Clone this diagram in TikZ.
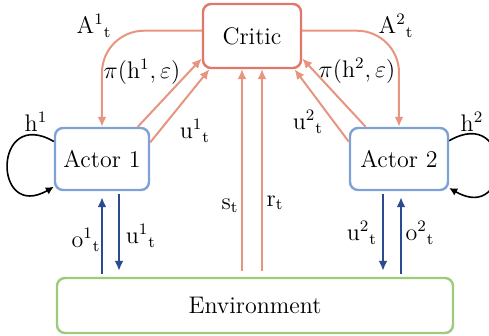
\documentclass[tikz,border=0pt]{standalone}
\usetikzlibrary{arrows.meta}
\definecolor{criticred}{HTML}{E0776A}
\definecolor{flowred}{HTML}{E8957F}
\definecolor{actorblue}{HTML}{7EA1D6}
\definecolor{envgreen}{HTML}{9CCB7C}
\definecolor{obsblue}{HTML}{2C4A8E}
\begin{document}
\begin{tikzpicture}[x=0.5pt, y=-0.5pt, font=\fontsize{12}{14}\selectfont,
    box/.style={draw, rounded corners=4pt, line width=1.2pt, inner sep=0pt},
    critarrow/.style={-{Latex[length=5pt,width=4.5pt]}, draw=flowred, line width=1pt},
    obsarrow/.style={-{Latex[length=5pt,width=4.5pt]}, draw=obsblue, line width=1pt,
      shorten <=1.5pt, shorten >=3pt},
    memloop/.style={-{Latex[length=4pt,width=4pt]}, draw=black, line width=0.8pt},
    lbl/.style={inner sep=1pt}]
\useasboundingbox (0,0) rectangle (489,336);
% boxes
\node[box, draw=criticred, minimum width=49pt, minimum height=32pt] (critic) at (252,36) {Critic};
\node[box, draw=actorblue, minimum width=47pt, minimum height=31pt] (actor1) at (102,159) {Actor 1};
\node[box, draw=actorblue, minimum width=49pt, minimum height=31pt] (actor2) at (399,159) {Actor 2};
\node[box, draw=envgreen, minimum width=198pt, minimum height=27.5pt] (env) at (255,305.5) {Environment};
% actors to critic and back
\draw[critarrow, rounded corners=21pt] (critic.174) -| (actor1.north);
\draw[critarrow, rounded corners=21pt] (critic.6) -| (actor2.north);
\draw[critarrow] (actor1.42) -- (critic.204);
\draw[critarrow] (actor1.19) -- (critic.218);
\draw[critarrow] (actor2.136) -- (critic.336);
\draw[critarrow] (actor2.161) -- (critic.322);
% state and reward
\draw[critarrow, shorten <=3pt, line width=0.8pt] ([xshift=-5pt]critic.south |- env.north) -- ([xshift=-5pt]critic.south);
\draw[critarrow, shorten <=3pt, line width=0.8pt] ([xshift=5pt]critic.south |- env.north) -- ([xshift=5pt]critic.south);
% observations and actions
\draw[obsarrow] (actor1.south |- env.north) -- (actor1.south);
\draw[obsarrow] ([xshift=8.5pt]actor1.south) -- ([xshift=8.5pt]actor1.south |- env.north);
\draw[obsarrow] ([xshift=-8pt]actor2.south) -- ([xshift=-8pt]actor2.south |- env.north);
\draw[obsarrow] ([xshift=1pt]actor2.south |- env.north) -- ([xshift=1pt]actor2.south);
% hidden state
\draw[memloop] (actor1.160) to[out=150,in=210,looseness=4] (actor1.210);
\draw[memloop] (actor2.20) to[out=30,in=-30,looseness=4] (actor2.-30);
% labels
\node[lbl] (a1) at (94,26) {$\mathrm{A}^{1}{}_{\mathrm{t}}$};
\node[lbl] (a2) at (396,26) {$\mathrm{A}^{2}{}_{\mathrm{t}}$};
\node[lbl] (pi1) at (142,72) {$\pi(\mathrm{h}^{1},\varepsilon)$};
\node[lbl] (pi2) at (357,71) {$\pi(\mathrm{h}^{2},\varepsilon)$};
\node[lbl] (uc1) at (195,131) {$\mathrm{u}^{1}{}_{\mathrm{t}}$};
\node[lbl] (uc2) at (308,122) {$\mathrm{u}^{2}{}_{\mathrm{t}}$};
\node[lbl] (h1) at (36,122) {$\mathrm{h}^{1}$};
\node[lbl] (h2) at (472,122) {$\mathrm{h}^{2}$};
\node[lbl] (o1) at (86,240) {$\mathrm{o}^{1}{}_{\mathrm{t}}$};
\node[lbl] (ue1) at (141,236) {$\mathrm{u}^{1}{}_{\mathrm{t}}$};
\node[lbl] (ue2) at (362,233) {$\mathrm{u}^{2}{}_{\mathrm{t}}$};
\node[lbl] (o2) at (420,233) {$\mathrm{o}^{2}{}_{\mathrm{t}}$};
\node[lbl] (st) at (230,206) {$\mathrm{s}_{\mathrm{t}}$};
\node[lbl] (rt) at (275,203) {$\mathrm{r}_{\mathrm{t}}$};
\end{tikzpicture}
\end{document}
